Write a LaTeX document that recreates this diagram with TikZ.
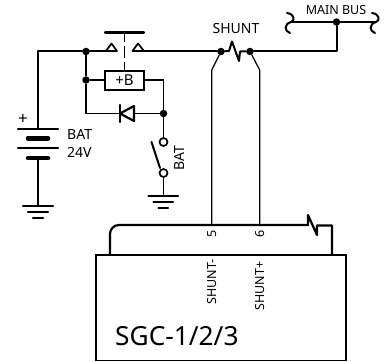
\documentclass[tikz,border=0pt]{standalone}
\usepackage{fontspec}
\setmainfont{Noto Sans}
\tikzset{
  x=1pt,y=-1pt,
  wire/.style={line width=2pt,line cap=round,line join=round},
  thin wire/.style={line width=1.2pt},
  heavy/.style={line width=2.2pt,line cap=round,line join=round},
  fatbar/.style={line width=4.5pt,line cap=round},
  dot/.style={circle,fill=black,inner sep=0pt,minimum size=7.5pt},
  ring/.style={circle,draw,fill=white,line width=1.7pt,inner sep=0pt,minimum size=8pt},
  lbl/.style={inner sep=0pt,font=\fontsize{14}{16}\selectfont},
  small/.style={inner sep=0pt,font=\fontsize{12.5}{14}\selectfont},
}
\begin{document}
\begin{tikzpicture}
\useasboundingbox (0,0) rectangle (385,361);
% junctions
\node[dot] (j1) at (86,51.5) {};
\node[dot] (j2) at (86,80) {};
\node[dot] (j3) at (163.5,113.5) {};
\node[dot] (sl) at (221,51.5) {};
\node[dot] (sr) at (250,51.5) {};
\node[dot] (jb) at (336.5,22) {};
\coordinate (corner) at (38,51.5);
\coordinate (bt1) at (38,129);
\coordinate (tl) at (111.5,51.5);
\coordinate (tr) at (138.5,51.5);
\coordinate (busc) at (336.5,51.5);
% battery
\draw[wire] (bt1) -- (corner) -- (j1) -- (tl);
\draw[wire] (tr) -- (sl);
\draw[wire] (sr) -- (busc) -- (jb);
\draw[heavy] (18,129) -- (58,129);
\draw[fatbar] (28,138.5) -- (48,138.5);
\draw[heavy] (18,148) -- (58,148);
\draw[fatbar] (28,158) -- (48,158);
\coordinate (bb) at (38,158);
\coordinate (g1) at (38,206);
\draw[wire] (bb) -- (g1);
\draw[heavy] (23,206) -- (53,206);
\draw[heavy] (28,212) -- (48,212);
\draw[heavy] (33,218) -- (43,218);
\node[lbl,font=\fontsize{17}{18}\selectfont] (plus) at (23,119) {+};
\node[lbl,anchor=west] (batl) at (67,134) {BAT};
\node[lbl,anchor=west] (v24) at (67,152) {24V};
% push button
\draw[heavy] (105,32.5) -- (144,32.5);
\draw[line width=1.5pt] (124.5,33) -- (124.5,42);
\draw[line width=1.5pt] (124.5,46) -- (124.5,58);
\draw[line width=1.5pt] (124.5,62) -- (124.5,71);
\draw[line width=1.7pt,fill=white,line join=round] (106,51) -- (111.5,43.5) -- (117,51) -- cycle;
\draw[line width=1.7pt,fill=white,line join=round] (132.5,51) -- (138,43.5) -- (144,51) -- cycle;
% +B
\node[draw,line width=2.2pt,minimum width=39pt,minimum height=19pt,inner sep=0pt,font=\fontsize{15}{16}\selectfont] (bx) at (124.5,80.5) {+B};
\coordinate (bxr) at (163.5,80);
\draw[thin wire] (j1) -- (j2) -- (bx.west |- j2);
\draw[thin wire] (bx.east |- bxr) -- (bxr) -- (j3);
% diode
\coordinate (dl) at (86,113.5);
\draw[thin wire] (j2) -- (dl) -- (120,113.5);
\draw[thin wire] (134,113.5) -- (j3);
\draw[heavy,fill=white] (134,106) -- (120,113.5) -- (134,121) -- cycle;
\draw[heavy] (120,105) -- (120,122);
% switch
\node[ring] (r1) at (163.5,142) {};
\node[ring] (r2) at (163.5,173) {};
\draw[thin wire] (j3) -- (r1);
\draw[wire] (151.5,142) -- (160,168);
\coordinate (g2) at (163.5,196);
\draw[thin wire] (r2) -- (g2);
\draw[heavy] (148.5,196) -- (178,196);
\draw[heavy] (153.5,202) -- (173,202);
\draw[heavy] (158.5,208) -- (168,208);
\node[lbl,rotate=90] (batr) at (179,158) {BAT};
% shunt
\draw[wire] (sl) -- (229,51) -- (232,41.5) -- (239,61) -- (240,51.5) -- (sr);
\node[lbl] (shl) at (236,29) {SHUNT};
\coordinate (al) at (211.7,70);
\coordinate (ar) at (259.7,70);
\coordinate (pl) at (211.7,225);
\coordinate (pr) at (259.7,225);
\draw[thin wire,line join=round] (sl) -- (al) -- (pl);
\draw[thin wire,line join=round] (sr) -- (ar) -- (pr);
% main bus
\draw[wire] (291,22) -- (376,22);
\draw[wire] (287,13) .. controls (295,14) and (295,21) .. (291,22) .. controls (284,24) and (284,31) .. (290,33);
\draw[wire] (372,13) .. controls (380,14) and (380,21) .. (376,22) .. controls (369,24) and (369,31) .. (375,33);
\node[small] (mb) at (336,10.5) {MAIN BUS};
% box
\node[draw,line width=1.7pt,minimum width=250pt,minimum height=105.5pt,inner sep=0pt,anchor=north west] (sgc) at (95,254) {};
\coordinate (cl) at (110,254);
\coordinate (cr) at (332,254);
\draw[heavy,rounded corners=9pt] (cl) -- (110,225) -- (308,225);
\draw[heavy] (308,225) -- (308,215) -- (317,235) -- (317,225.5) -- (332,225.5) -- (cr);
\node[small,rotate=90] (n5) at (211.7,233.5) {5};
\node[small,rotate=90] (n6) at (259.7,233.5) {6};
\node[small,rotate=90] (sm) at (211.7,282) {SHUNT-};
\node[small,rotate=90] (sp) at (259.7,286) {SHUNT+};
\node[inner sep=0pt,anchor=west,font=\fontsize{26.3}{30}\selectfont] (name) at (115,336) {SGC-1/2/3};
\end{tikzpicture}
\end{document}
